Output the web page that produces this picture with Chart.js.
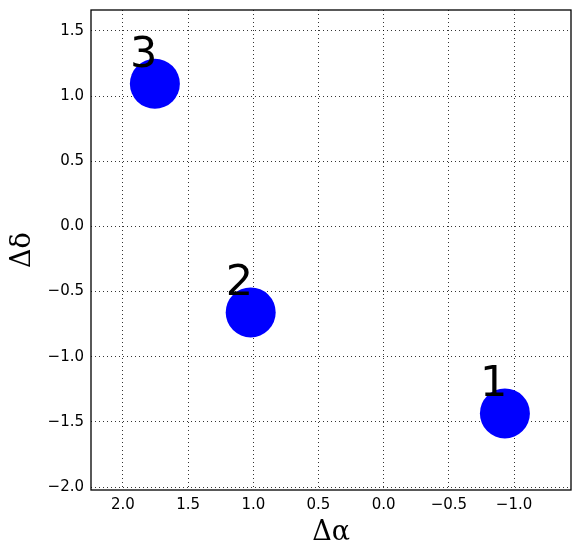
<!DOCTYPE html>
<html>
<head>
<meta charset="utf-8">
<script src="https://cdn.jsdelivr.net/npm/chart.js@4/dist/chart.umd.min.js"></script>
<style>
html,body{margin:0;padding:0;background:#fff;}
#wrap{width:580px;height:558px;}
</style>
</head>
<body>
<div id="wrap"><canvas id="c" width="580" height="558"></canvas></div>
<script>
const pointLabels = ["1", "2", "3"];
const dAlpha = [-0.93, 1.02, 1.755];
const dDelta = [-1.435, -0.66, 1.095];
const xTicks = [2.0, 1.5, 1.0, 0.5, 0.0, -0.5, -1.0];
const yTicks = [-2.0, -1.5, -1.0, -0.5, 0.0, 0.5, 1.0, 1.5];
const xRange = [-1.437, 2.245];
const yRange = [-2.023, 1.661];

const fmt = v => (v < 0 ? '\u2212' : '') + Math.abs(v).toFixed(1);

const labelPlugin = {
  id: 'labels',
  afterDatasetsDraw(chart) {
    const ctx = chart.ctx;
    const meta = chart.getDatasetMeta(0);
    ctx.save();
    ctx.font = '43px "DejaVu Sans"';
    ctx.fillStyle = '#000';
    ctx.textAlign = 'left';
    ctx.textBaseline = 'alphabetic';
    meta.data.forEach((el, i) => {
      ctx.fillText(pointLabels[i], el.x - 25, el.y - 17);
    });
    ctx.restore();
  },
  afterDraw(chart) {
    const {ctx, chartArea: a} = chart;
    ctx.save();
    ctx.setLineDash([]);
    ctx.strokeStyle = '#000';
    ctx.lineWidth = 1.3;
    ctx.strokeRect(a.left, a.top, a.right - a.left, a.bottom - a.top);
    ctx.restore();
  }
};

new Chart(document.getElementById('c'), {
  type: 'scatter',
  data: {
    datasets: [{
      data: dAlpha.map((x, i) => ({x: x, y: dDelta[i]})),
      backgroundColor: '#0000ff',
      borderWidth: 0,
      pointRadius: 25,
      pointHoverRadius: 25
    }]
  },
  options: {
    responsive: false,
    animation: false,
    events: [],
    layout: {autoPadding: false, padding: {left: 0, right: 9, top: 10, bottom: 0}},
    plugins: {legend: {display: false}, tooltip: {enabled: false}},
    scales: {
      x: {
        type: 'linear',
        reverse: true,
        min: xRange[0],
        max: xRange[1],
        afterBuildTicks: s => { s.ticks = xTicks.map(v => ({value: v})); },
        afterFit: s => { s.height = 68; s.paddingLeft = 0; s.paddingRight = 0; },
        ticks: {
          callback: v => fmt(v),
          font: {family: 'DejaVu Sans', size: 15},
          color: '#000',
          padding: 6,
          maxRotation: 0,
          autoSkip: false
        },
        grid: {color: '#000', lineWidth: 0.8, drawTicks: false},
        border: {display: false, dash: [1, 3]},
        title: {
          display: true,
          text: 'Δα',
          font: {family: 'DejaVu Serif', size: 27},
          color: '#000',
          padding: {top: 9, bottom: 9}
        }
      },
      y: {
        type: 'linear',
        min: yRange[0],
        max: yRange[1],
        afterBuildTicks: s => { s.ticks = yTicks.map(v => ({value: v})); },
        afterFit: s => { s.width = 91; s.paddingTop = 0; s.paddingBottom = 0; },
        ticks: {
          callback: v => fmt(v),
          font: {family: 'DejaVu Sans', size: 15},
          color: '#000',
          padding: 7,
          autoSkip: false
        },
        grid: {color: '#000', lineWidth: 0.8, drawTicks: false},
        border: {display: false, dash: [1, 3]},
        title: {
          display: true,
          text: 'Δδ',
          font: {family: 'DejaVu Serif', size: 27},
          color: '#000',
          padding: {top: 7, bottom: 0}
        }
      }
    }
  },
  plugins: [labelPlugin]
});
</script>
</body>
</html>
